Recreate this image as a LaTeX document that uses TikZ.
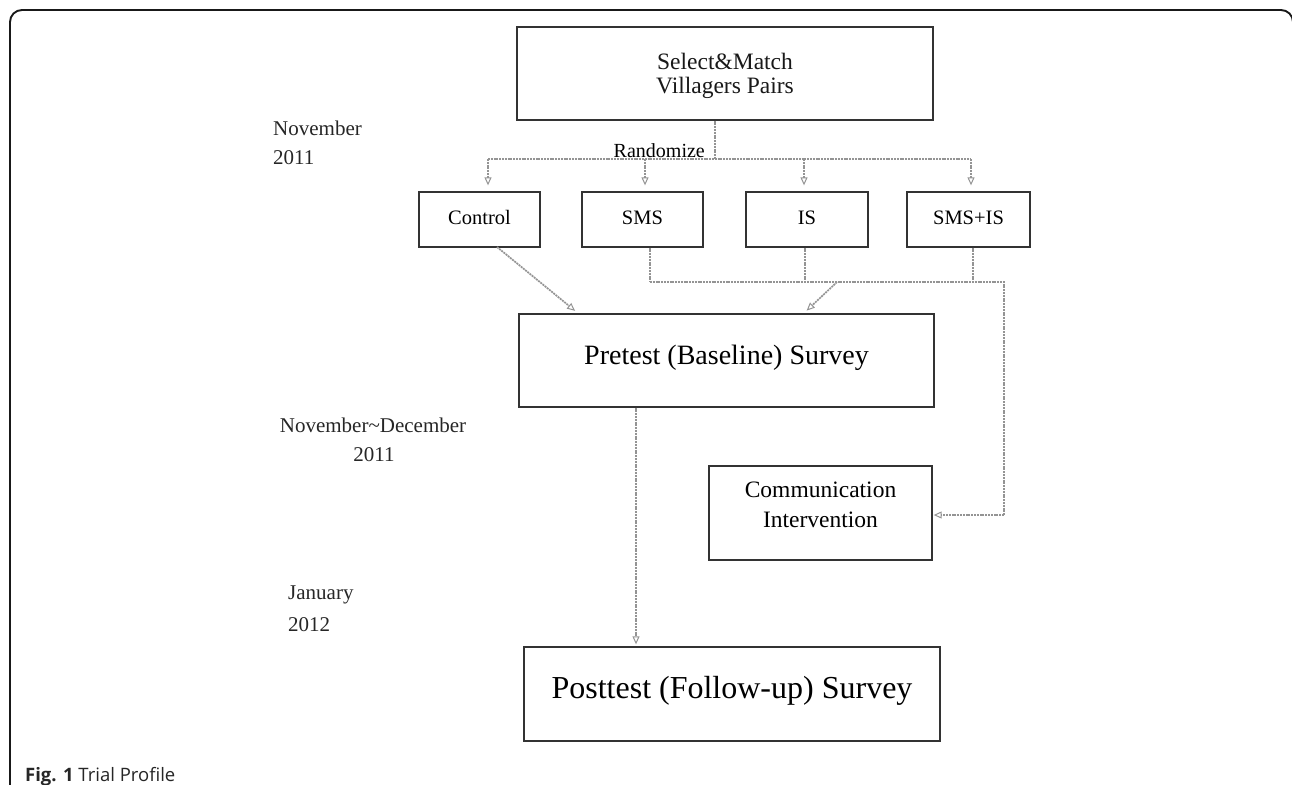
\documentclass[tikz,border=0pt]{standalone}
\usepackage{fontspec}
\setmainfont{Liberation Serif}
\newfontfamily\capfont{Open Sans}
\usetikzlibrary{arrows.meta,calc}
\newcommand{\fsz}[1]{\fontsize{#1}{#1}\selectfont}
\tikzset{
  box/.style={draw=black!80, line width=1.3pt, inner sep=0pt, fill=white},
  conn/.style={draw=black!42, line width=1.7pt, dash pattern=on 2pt off 0.8pt},
  arr/.style={conn, -{Triangle[open, length=8pt, width=7pt, line width=1pt]}},
  frameline/.style={draw=black!90, line width=1.9pt, rounded corners=12pt},
  lbl/.style={font=\fsz{21}, inner sep=0pt, text=black!85},
  one/.style={text height=1.45ex, text depth=0.25ex},
}
\begin{document}
\begin{tikzpicture}[x=1pt,y=-1pt]
\useasboundingbox (0,0) rectangle (1292,784);
% frame
\draw[frameline] (10,800) -- (10,10) -- (1293,10) -- (1293,800);

% boxes
\node[box, minimum width=416pt, minimum height=93pt,
  label={[font=\fontsize{23.5}{24}\selectfont, align=center, yshift=-2pt, text=black!90]center:Select\&Match\\Villagers Pairs}] (top) at (725,73.5) {};

\node[box, minimum width=121pt, minimum height=55pt,
  label={[font=\fsz{20.5}, one, yshift=-2pt]center:Control}] (ctrl) at (479.5,219.5) {};
\node[box, minimum width=121pt, minimum height=55pt,
  label={[font=\fsz{20.5}, one, yshift=-2pt]center:SMS}] (sms) at (642.5,219.5) {};
\node[box, minimum width=122pt, minimum height=55pt,
  label={[font=\fsz{20.5}, one, yshift=-2pt]center:IS}] (is) at (807,219.5) {};
\node[box, minimum width=123pt, minimum height=55pt,
  label={[font=\fsz{20.5}, one, yshift=-2pt]center:SMS+IS}] (smsis) at (968.5,219.5) {};

\node[box, minimum width=415pt, minimum height=93pt,
  label={[font=\fsz{28}, one, yshift=-1pt]center:Pretest (Baseline) Survey}] (pre) at (726.5,360.5) {};

\node[box, minimum width=223pt, minimum height=94pt,
  label={[font=\fontsize{23.5}{30}\selectfont, align=center, yshift=8pt]center:Communication\\Intervention}] (comm) at (820.5,513) {};

\node[box, minimum width=416pt, minimum height=94pt,
  label={[font=\fsz{32}, one, yshift=-1.5pt]center:Posttest (Follow-up) Survey}] (post) at (732,694) {};

% side labels
\node[lbl, anchor=west] (nov) at (273,128) {November};
\node[lbl, anchor=west] (nov11) at (273,158) {2011};
\node[lbl] (novdec) at (373,425) {November\textasciitilde December};
\node[lbl] (novdec11) at (374,455) {2011};
\node[lbl, anchor=west] (jan) at (288,595) {January};
\node[lbl, anchor=west] (jan12) at (288,625) {2012};

% randomize
\coordinate (split) at (715,159);
\coordinate (h1) at (488,159);
\coordinate (h2) at (645,159);
\coordinate (h3) at (804,159);
\coordinate (h4) at (971,159);
\draw[conn] (top.south -| split) -- (split);
\draw[conn] (h1) -- (h4);
\node[font=\fsz{20}, inner sep=0pt, anchor=base east] (rand) at (705,157) {Randomize};
\draw[arr, shorten >=6pt] (h1) -- (ctrl.north -| h1);
\draw[arr, shorten >=6pt] (h2) -- (sms.north -| h2);
\draw[arr, shorten >=6pt] (h3) -- (is.north -| h3);
\draw[arr, shorten >=6pt] (h4) -- (smsis.north -| h4);

% control to pretest
\coordinate (c1) at (497,247);
\coordinate (c2) at (579,314);
\draw[arr, shorten >=5pt] (c1) -- (c2);

% merge line
\coordinate (m1) at (650,282);
\coordinate (m2) at (805,282);
\coordinate (m3) at (973,282);
\coordinate (m4) at (1004,282);
\coordinate (m5) at (1004,515);
\coordinate (md) at (837,282);
\coordinate (mt) at (803,314);
\draw[conn] (sms.south -| m1) -- (m1);
\draw[conn] (is.south -| m2) -- (m2);
\draw[conn] (smsis.south -| m3) -- (m3);
\draw[conn] (m1) -- (m4) -- (m5);
\draw[arr, shorten >=1pt] (m5) -- (comm.east |- m5);
\draw[arr, shorten >=5pt] (md) -- (mt);

% pretest to posttest
\coordinate (p1) at (636,407);
\draw[arr, shorten >=2pt] (pre.south -| p1) -- (post.north -| p1);

% caption
\node[font=\capfont\fsz{18.5}, inner sep=0pt, anchor=base west, text=black!85] (cap) at (25,781) {\textbf{Fig. 1} Trial Profile};
\end{tikzpicture}
\end{document}
